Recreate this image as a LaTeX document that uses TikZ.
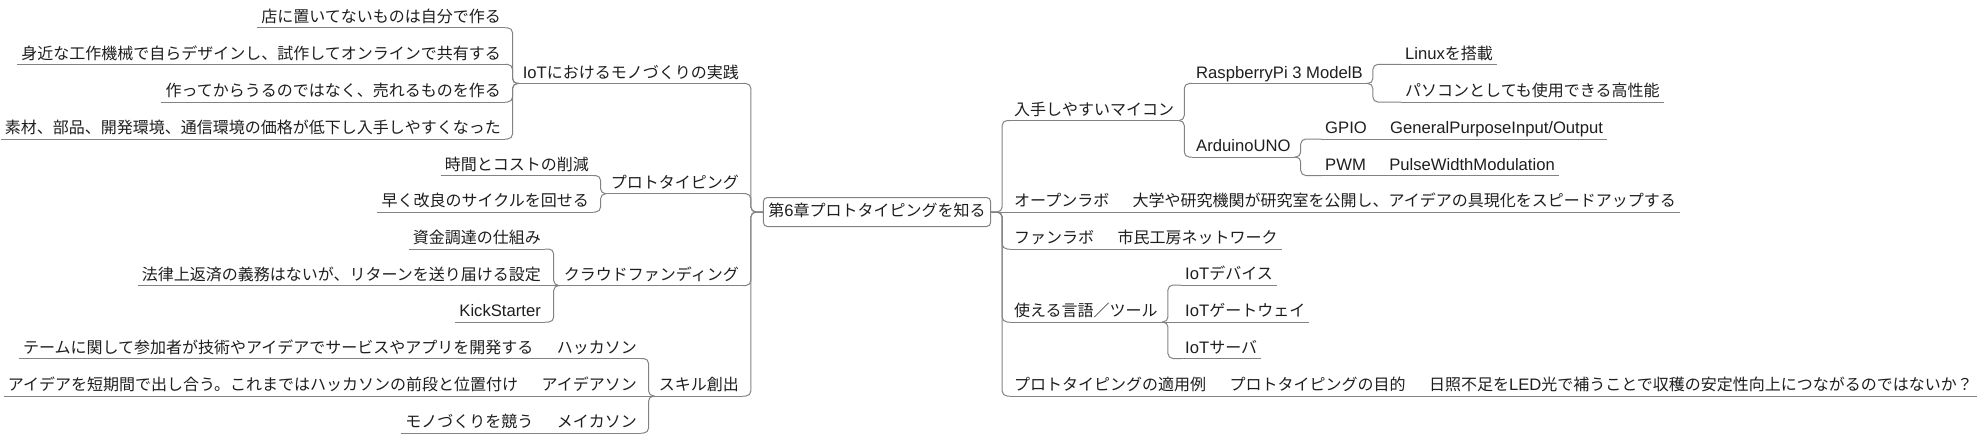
\documentclass[tikz,border=0pt]{standalone}
\usepackage{fontspec}
\setmainfont{Noto Sans CJK JP}
\newfontfamily\enfont{Liberation Sans}[Scale=1.04]
\newcommand{\enf}[1]{{\enfont #1}}
\usepackage{tikz}
\usetikzlibrary{positioning}
\definecolor{linegray}{RGB}{130,130,130}
\definecolor{inkgray}{RGB}{30,30,30}

\begin{document}
\begin{tikzpicture}[x=1pt,y=-1pt,font={\fontsize{16}{19}\selectfont},node distance=15pt,
    topic/.style={inner xsep=4pt,inner ysep=2pt,text height=12pt,text depth=3pt,text=inkgray},
    rootbox/.style={draw=linegray,line width=1pt,rounded corners=4pt,inner xsep=5pt,inner ysep=7pt,
      text height=12pt,text depth=3pt,text=inkgray},
    uline/.style={draw=linegray,line width=1pt},
    branch/.style={uline,rounded corners=5pt}]
  \useasboundingbox (0,0) rectangle (1979,444);

  \node[rootbox] (root) at (877,212) {第\enf{6}章プロトタイピングを知る};

  % right side
  \node[topic,anchor=south west] (mycon) at (1010,120.5) {入手しやすいマイコン};
  \node[topic,anchor=south west] (rpi) at (1192,83.5) {\enf{RaspberryPi 3 ModelB}};
  \node[topic,anchor=south west] (linux) at (1401,64.4) {\enf{Linux}を搭載};
  \node[topic,anchor=south west] (pcperf) at (1401,102) {パソコンとしても使用できる高性能};
  \node[topic,anchor=south west] (arduino) at (1192,157) {\enf{ArduinoUNO}};
  \node[topic,anchor=south west] (gpio) at (1321,139) {\enf{GPIO}};
  \node[topic,right=of gpio] (gpiod) {\enf{GeneralPurposeInput/Output}};
  \node[topic,anchor=south west] (pwm) at (1321,175.5) {\enf{PWM}};
  \node[topic,right=of pwm] (pwmd) {\enf{PulseWidthModulation}};
  \node[topic,anchor=south west] (olab) at (1010,212) {オープンラボ};
  \node[topic,right=of olab] (olabd) {大学や研究機関が研究室を公開し、アイデアの具現化をスピードアップする};
  \node[topic,anchor=south west] (flab) at (1010,249) {ファンラボ};
  \node[topic,right=of flab] (flabd) {市民工房ネットワーク};
  \node[topic,anchor=south west] (tools) at (1010,322) {使える言語／ツール};
  \node[topic,anchor=south west] (iotdev) at (1181,285) {\enf{IoT}デバイス};
  \node[topic,anchor=south west] (iotgw) at (1181,322) {\enf{IoT}ゲートウェイ};
  \node[topic,anchor=south west] (iotsrv) at (1181,358.5) {\enf{IoT}サーバ};
  \node[topic,anchor=south west] (apply) at (1010,396) {プロトタイピングの適用例};
  \node[topic,right=of apply] (applyp) {プロトタイピングの目的};
  \node[topic,right=of applyp] (applyq) {日照不足を\enf{LED}光で補うことで収穫の安定性向上につながるのではないか？};

  % left side
  \node[topic,anchor=south east] (iot) at (743,83.5) {\enf{IoT}におけるモノづくりの実践};
  \node[topic,anchor=south east] (shop) at (505,27.8) {店に置いてないものは自分で作る};
  \node[topic,anchor=south east] (near) at (505,64.4) {身近な工作機械で自らデザインし、試作してオンラインで共有する};
  \node[topic,anchor=south east] (sell) at (505,102) {作ってからうるのではなく、売れるものを作る};
  \node[topic,anchor=south east] (cost) at (505,139) {素材、部品、開発環境、通信環境の価格が低下し入手しやすくなった};
  \node[topic,anchor=south east] (proto) at (743,193.7) {プロトタイピング};
  \node[topic,anchor=south east] (save) at (593,175.5) {時間とコストの削減};
  \node[topic,anchor=south east] (cycle) at (593,212) {早く改良のサイクルを回せる};
  \node[topic,anchor=south east] (crowd) at (743,285.5) {クラウドファンディング};
  \node[topic,anchor=south east] (fund) at (545,249) {資金調達の仕組み};
  \node[topic,anchor=south east] (legal) at (545,285.5) {法律上返済の義務はないが、リターンを送り届ける設定};
  \node[topic,anchor=south east] (kick) at (545,322) {\enf{KickStarter}};
  \node[topic,anchor=south east] (skill) at (743,396) {スキル創出};
  \node[topic,anchor=south east] (hack) at (641,358.5) {ハッカソン};
  \node[topic,left=of hack] (hackd) {テームに関して参加者が技術やアイデアでサービスやアプリを開発する};
  \node[topic,anchor=south east] (idea) at (641,396) {アイデアソン};
  \node[topic,left=of idea] (idead) {アイデアを短期間で出し合う。これまではハッカソンの前段と位置付け};
  \node[topic,anchor=south east] (make) at (641,433) {メイカソン};
  \node[topic,left=of make] (maked) {モノづくりを競う};

  % underlines
  \foreach \n in {mycon,rpi,linux,pcperf,arduino,gpio,gpiod,pwm,pwmd,olab,olabd,flab,flabd,
      tools,iotdev,iotgw,iotsrv,apply,applyp,applyq,iot,shop,near,sell,cost,proto,save,cycle,
      crowd,fund,legal,kick,skill,hack,hackd,idea,idead,make,maked}
    \draw[uline] (\n.south west) -- (\n.south east);

  % branches
  \draw[uline] (root.east) -- (olab.south west);
  \foreach \c in {mycon,flab,tools,apply}
    \draw[branch] (root.east) -- ++(11,0) |- (\c.south west);
  \foreach \c in {iot,proto,crowd,skill}
    \draw[branch] (root.west) -- ++(-12,0) |- (\c.south east);
  \foreach \c in {rpi,arduino}
    \draw[branch] (mycon.south east) -- ++(6,0) |- (\c.south west);
  \foreach \c in {linux,pcperf}
    \draw[branch] (rpi.south east) -- ++(6,0) |- (\c.south west);
  \foreach \c in {gpio,pwm}
    \draw[branch] (arduino.south east) -- ++(6,0) |- (\c.south west);
  \foreach \c in {iotdev,iotsrv}
    \draw[branch] (tools.south east) -- ++(6,0) |- (\c.south west);
  \draw[uline] (tools.south east) -- (iotgw.south west);
  \foreach \c in {shop,near,sell,cost}
    \draw[branch] (iot.south west) -- ++(-6,0) |- (\c.south east);
  \foreach \c in {save,cycle}
    \draw[branch] (proto.south west) -- ++(-6,0) |- (\c.south east);
  \foreach \c in {fund,kick}
    \draw[branch] (crowd.south west) -- ++(-6,0) |- (\c.south east);
  \draw[uline] (crowd.south west) -- (legal.south east);
  \foreach \c in {hack,make}
    \draw[branch] (skill.south west) -- ++(-6,0) |- (\c.south east);
  \draw[uline] (skill.south west) -- (idea.south east);

  % single children
  \draw[uline] (gpio.south east) -- (gpiod.south west);
  \draw[uline] (pwm.south east) -- (pwmd.south west);
  \draw[uline] (olab.south east) -- (olabd.south west);
  \draw[uline] (flab.south east) -- (flabd.south west);
  \draw[uline] (apply.south east) -- (applyp.south west);
  \draw[uline] (applyp.south east) -- (applyq.south west);
  \draw[uline] (hackd.south east) -- (hack.south west);
  \draw[uline] (idead.south east) -- (idea.south west);
  \draw[uline] (maked.south east) -- (make.south west);
\end{tikzpicture}
\end{document}
